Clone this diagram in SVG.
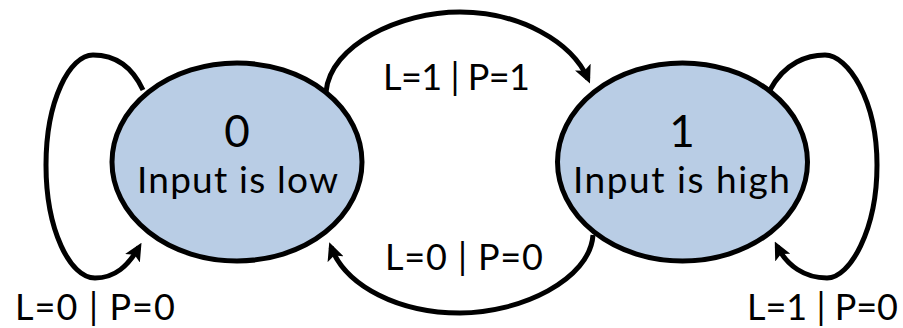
<svg xmlns="http://www.w3.org/2000/svg" width="903" height="328" viewBox="0 0 903 328">
<style>
.node{fill:#B9CDE5;stroke:#000;stroke-width:5}
.edge{fill:none;stroke:#000;stroke-width:5;marker-end:url(#arr)}
text{font-family:Lato,"Open Sans","DejaVu Sans",sans-serif;fill:#000}
.num{font-size:44px;text-anchor:middle}
.desc{font-size:37px}
.lbl{font-size:36px}
</style>
<defs>
<marker id="arr" markerUnits="userSpaceOnUse" viewBox="0 0 18 17" refX="13" refY="8.5" markerWidth="18" markerHeight="17" orient="auto">
<path d="M0,0 L18,8.5 L0,17 L4,8.5 Z" fill="#000"/>
</marker>
</defs>
<rect width="903" height="328" fill="#fff"/>
<g id="edges">
<path class="edge" d="M143 90 C130 62,110 55,93 55 C70 55,46 100,46 165 C46 230,70 278,95 278 C115 278,128 266,139 247"/>
<path class="edge" d="M326 92 C330 45,400 12,460 12 C520 12,572 42,588 79"/>
<path class="edge" d="M593 235 C590 280,520 313,460 313 C400 313,346 287,331 247"/>
<path class="edge" d="M770 90 C785 62,808 55,825 55 C848 55,877 100,877 165 C877 230,850 278,827 278 C805 278,787 266,777 246"/>
</g>
<g id="node0">
<ellipse class="node" cx="237" cy="162" rx="125" ry="99"/>
<text class="num" x="237" y="147">0</text>
<text class="desc" x="137" y="193" textLength="201">Input is low</text>
</g>
<g id="node1">
<ellipse class="node" cx="682.5" cy="162" rx="125" ry="99"/>
<text class="num" x="682" y="147">1</text>
<text class="desc" x="573" y="193" textLength="217">Input is high</text>
</g>
<g id="labels">
<text class="lbl" x="15" y="320" textLength="160">L=0 | P=0</text>
<text class="lbl" x="383" y="90" textLength="147">L=1 | P=1</text>
<text class="lbl" x="385" y="270" textLength="158">L=0 | P=0</text>
<text class="lbl" x="747" y="320" textLength="151">L=1 | P=0</text>
</g>
</svg>
